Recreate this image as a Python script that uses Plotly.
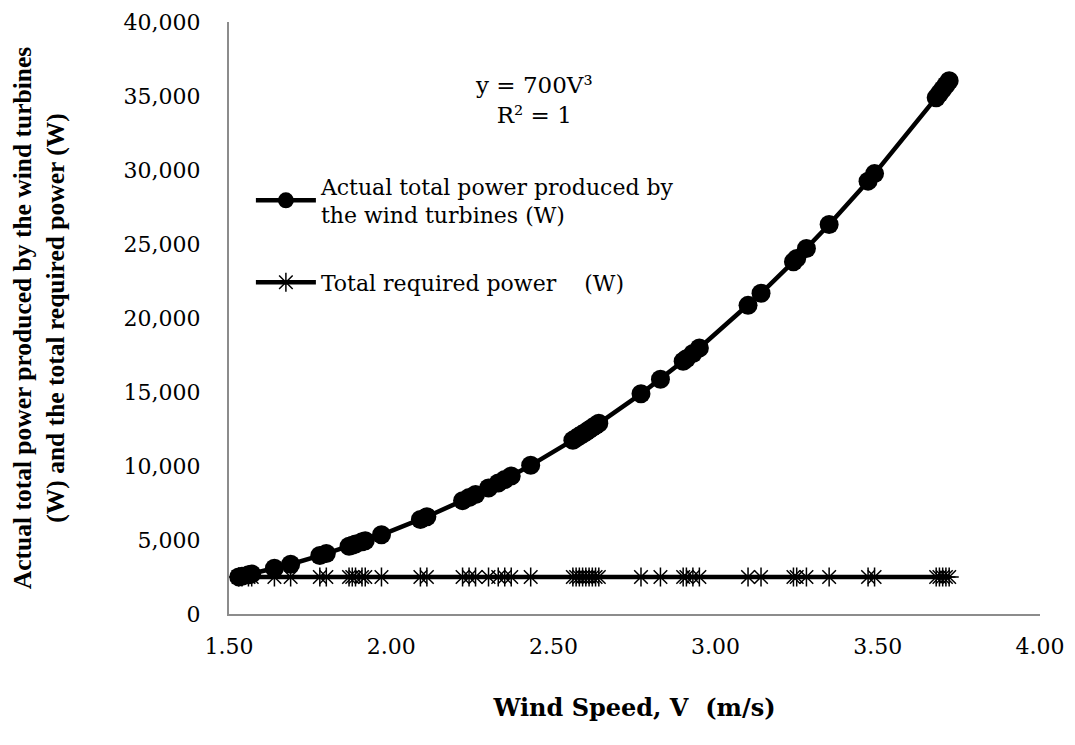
import plotly.graph_objects as go

# Wind speed values (m/s)
wind_speed = [1.53, 1.54, 1.56, 1.57, 1.64, 1.69, 1.78, 1.80, 1.87, 1.88, 1.89, 1.91, 1.92,
              1.97, 2.09, 2.11, 2.22, 2.24, 2.26, 2.30, 2.33, 2.35, 2.37, 2.43,
              2.56, 2.57, 2.58, 2.59, 2.60, 2.61, 2.62, 2.63, 2.64,
              2.77, 2.83, 2.90, 2.91, 2.93, 2.95, 3.10, 3.14, 3.24, 3.25, 3.28,
              3.35, 3.47, 3.49, 3.68, 3.69, 3.70, 3.71, 3.72]

# Actual total power produced by the wind turbines (W)
actual_power = [2507, 2556, 2658, 2710, 3088, 3361, 3948, 4082, 4577, 4651, 4725, 4877, 4955,
                5352, 6390, 6576, 7659, 7867, 8080, 8517, 8856, 9087, 9320, 10045,
                11744, 11882, 12022, 12163, 12303, 12450, 12594, 12740, 12888,
                14877, 15865, 17073, 17250, 17601, 17971, 20854, 21673, 23807, 24028, 24701,
                26316, 29247, 29756, 34884, 35170, 35457, 35745, 36036]

# Total required power (W)
required_power = [2500] * len(wind_speed)

x_ticks = [1.5, 2.0, 2.5, 3.0, 3.5, 4.0]
x_tick_text = ["1.50", "2.00", "2.50", "3.00", "3.50", "4.00"]
y_ticks = [0, 5000, 10000, 15000, 20000, 25000, 30000, 35000, 40000]
y_tick_text = ["0", "5,000", "10,000", "15,000", "20,000", "25,000", "30,000", "35,000", "40,000"]

serif = "DejaVu Serif"

fig = go.Figure()
fig.add_trace(go.Scatter(
    x=wind_speed, y=actual_power, mode="lines+markers",
    name="Actual total power produced by<br>the wind turbines (W)",
    legendgroup="actual",
    line=dict(color="black", width=4.5),
    marker=dict(symbol="circle", size=19, color="black"),
))
fig.add_trace(go.Scatter(
    x=wind_speed, y=required_power, mode="lines+markers",
    name="Total required power    (W)",
    legendgroup="required",
    line=dict(color="black", width=4.5),
    marker=dict(symbol="asterisk-open", size=16, color="black",
                line=dict(color="black", width=1.5)),
))

fig.add_annotation(
    x=0.376, y=0.868, xref="paper", yref="paper", xanchor="center", yanchor="middle",
    text="y = 700V³<br>R² = 1", showarrow=False,
    font=dict(family=serif, size=23, color="black"), align="center",
)

fig.update_layout(
    width=1059, height=729,
    paper_bgcolor="white", plot_bgcolor="white",
    margin=dict(l=221, r=27, t=14, b=123),
    font=dict(family=serif, color="black", size=22),
    showlegend=True,
    legend=dict(x=0.027, y=0.758, xanchor="left", yanchor="top",
                bgcolor="rgba(0,0,0,0)", font=dict(family=serif, size=22),
                tracegroupgap=36, itemwidth=60),
    xaxis=dict(
        range=[1.5, 4.0], tickvals=x_ticks, ticktext=x_tick_text, automargin=False,
        showgrid=False, zeroline=False, showline=True, linecolor="#8c8c8c", linewidth=2,
        ticks="", tickfont=dict(family=serif, size=22), ticklabelstandoff=12,
        title=dict(text="<b>Wind Speed, V  (m/s)</b>",
                   font=dict(family=serif, size=24), standoff=41),
    ),
    yaxis=dict(
        range=[0, 40000], tickvals=y_ticks, ticktext=y_tick_text, automargin=False,
        showgrid=False, zeroline=False, showline=True, linecolor="#8c8c8c", linewidth=2,
        ticks="", tickfont=dict(family=serif, size=22), ticklabelstandoff=22,
        title=dict(text="<b>Actual total power produced by the wind turbines<br>(W) and the total required power (W)</b>",
                   font=dict(family="Liberation Serif", size=25.5), standoff=105),
    ),
)

fig.write_html("out.html")
